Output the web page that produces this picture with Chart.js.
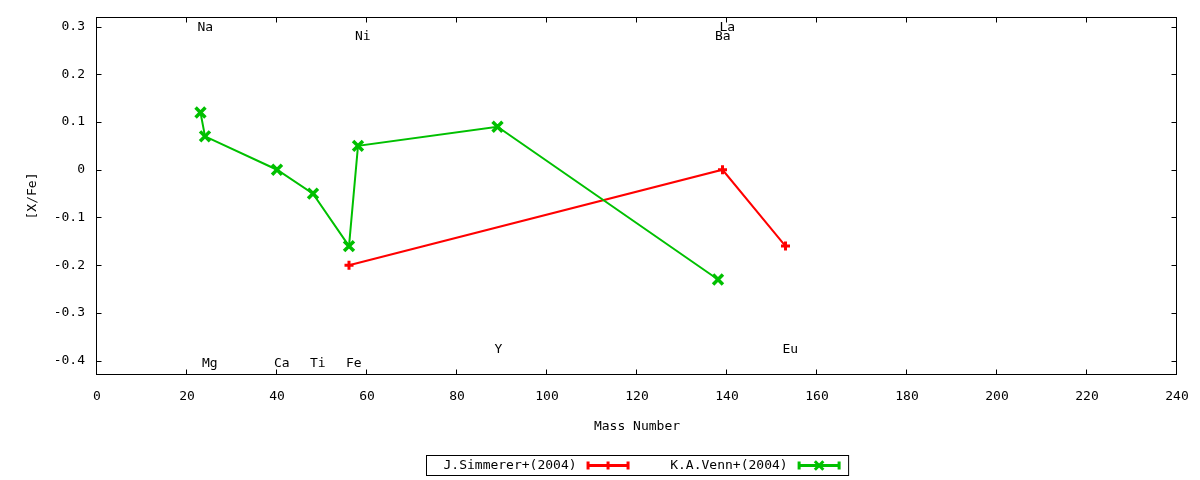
<!DOCTYPE html>
<html>
<head>
<meta charset="utf-8">
<script src="https://cdn.jsdelivr.net/npm/chart.js@4/dist/chart.umd.min.js"></script>
<style>
  html, body { margin: 0; padding: 0; background: #fff; }
  #wrap { width: 1200px; height: 480px; }
</style>
</head>
<body>
<div id="wrap"><canvas id="chart"></canvas></div>
<script>
// Series: mass number vs [X/Fe]
const simmererMass = [56, 139, 153];
const simmererXFe = [-0.20, 0.00, -0.16];
const vennMass = [23, 24, 40, 48, 56, 58, 89, 138];
const vennXFe = [0.12, 0.07, 0.00, -0.05, -0.16, 0.05, 0.09, -0.23];

// Element labels placed in data coordinates
const elementNames = ['Na', 'Mg', 'Ca', 'Ti', 'Fe', 'Ni', 'Y', 'Ba', 'La', 'Eu'];
const elementLabelX = [23, 24, 40, 48, 56, 58, 89, 138, 139, 153];
const elementLabelY = [0.30, -0.405, -0.405, -0.405, -0.405, 0.28, -0.375, 0.28, 0.30, -0.375];

// Tick labels
const xTickValues = [0, 20, 40, 60, 80, 100, 120, 140, 160, 180, 200, 220, 240];
const yTickValues = [-0.4, -0.3, -0.2, -0.1, 0, 0.1, 0.2, 0.3];

const FONT = 'DejaVu Sans Mono';
Chart.defaults.font.family = FONT;
Chart.defaults.font.size = 13;
Chart.defaults.color = '#000';

const toPoints = (xs, ys) => xs.map((x, i) => ({ x: x, y: ys[i] }));

// Draws a gnuplot-like marker
function drawMarker(ctx, style, x, y, r) {
    ctx.beginPath();
    if (style === 'cross') {
        ctx.moveTo(x - r, y); ctx.lineTo(x + r, y);
        ctx.moveTo(x, y - r); ctx.lineTo(x, y + r);
    } else {
        const d = r * Math.SQRT1_2;
        ctx.moveTo(x - d, y - d); ctx.lineTo(x + d, y + d);
        ctx.moveTo(x - d, y + d); ctx.lineTo(x + d, y - d);
    }
    ctx.stroke();
}

const framePlugin = {
    id: 'frame',
    afterDraw(chart) {
        const ctx = chart.ctx;
        const ca = chart.chartArea;
        const xs = chart.scales.x;
        const ys = chart.scales.y;
        const tick = 5;
        ctx.save();

        // border box
        ctx.strokeStyle = '#000';
        ctx.lineWidth = 1;
        const L = Math.round(ca.left) - 0.5, R = Math.round(ca.right) - 0.5;
        const T = Math.round(ca.top) + 0.5, B = Math.round(ca.bottom) - 0.5;
        ctx.strokeRect(L, T, R - L, B - T);

        // inward ticks, mirrored on top and right
        ctx.beginPath();
        xs.ticks.forEach(t => {
            const px = Math.round(xs.getPixelForValue(t.value)) - 0.5;
            ctx.moveTo(px, B); ctx.lineTo(px, B - tick);
            ctx.moveTo(px, T); ctx.lineTo(px, T + tick);
        });
        ys.ticks.forEach(t => {
            const py = Math.round(ys.getPixelForValue(t.value)) + 0.5;
            ctx.moveTo(L, py); ctx.lineTo(L + tick, py);
            ctx.moveTo(R, py); ctx.lineTo(R - tick, py);
        });
        ctx.stroke();

        // element labels
        ctx.fillStyle = '#000';
        ctx.font = '13px "' + FONT + '"';
        ctx.textAlign = 'left';
        ctx.textBaseline = 'middle';
        elementNames.forEach((name, i) => {
            const px = xs.getPixelForValue(elementLabelX[i]) - 3;
            const py = ys.getPixelForValue(elementLabelY[i]) + 1;
            ctx.fillText(name, px, py);
        });

        // key box below the plot
        const sets = chart.data.datasets;
        const textW = Math.max(...sets.map(d => ctx.measureText(d.label).width));
        const sampleW = 43, gapText = 10, entryGap = 25, padL = 17, padR = 8;
        const entryW = textW + gapText + sampleW;
        const total = padL + sets.length * entryW + (sets.length - 1) * entryGap + padR;
        const boxL = Math.round((ca.left + ca.right) / 2 - total / 2) + 0.5;
        const boxT = 455.5, boxH = 20;
        ctx.lineWidth = 1;
        ctx.strokeStyle = '#000';
        ctx.strokeRect(boxL, boxT, total, boxH);
        const cy = boxT + boxH / 2;
        sets.forEach((d, i) => {
            const x0 = boxL + padL + i * (entryW + entryGap);
            ctx.fillStyle = '#000';
            ctx.textAlign = 'right';
            ctx.fillText(d.label, x0 + textW, cy);
            const s0 = x0 + textW + gapText, s1 = s0 + sampleW;
            ctx.strokeStyle = d.borderColor;
            ctx.lineWidth = 3;
            ctx.beginPath();
            ctx.moveTo(s0, cy); ctx.lineTo(s1, cy);
            ctx.moveTo(s0 + 1.5, cy - 4); ctx.lineTo(s0 + 1.5, cy + 4);
            ctx.moveTo(s1 - 1.5, cy - 4); ctx.lineTo(s1 - 1.5, cy + 4);
            ctx.stroke();
            drawMarker(ctx, d.pointStyle, (s0 + s1) / 2, cy, d.pointStyle === 'cross' ? 4 : 6);
        });
        ctx.restore();
    }
};

new Chart(document.getElementById('chart'), {
    type: 'scatter',
    data: {
        datasets: [
            {
                label: 'J.Simmerer+(2004)',
                data: toPoints(simmererMass, simmererXFe),
                showLine: true,
                borderColor: '#ff0000',
                backgroundColor: '#ff0000',
                borderWidth: 2,
                pointStyle: 'cross',
                pointRadius: 4.5,
                pointBorderWidth: 3,
                order: 1
            },
            {
                label: 'K.A.Venn+(2004)',
                data: toPoints(vennMass, vennXFe),
                showLine: true,
                borderColor: '#00c000',
                backgroundColor: '#00c000',
                borderWidth: 2,
                pointStyle: 'crossRot',
                pointRadius: 7,
                pointBorderWidth: 3.5,
                order: 0
            }
        ]
    },
    options: {
        responsive: true,
        maintainAspectRatio: false,
        animation: false,
        events: [],
        layout: { padding: { top: 17, right: 23, left: 0, bottom: 0 } },
        plugins: {
            legend: { display: false },
            tooltip: { enabled: false }
        },
        scales: {
            x: {
                type: 'linear',
                min: 0,
                max: 240,
                grid: { display: false, drawTicks: false },
                border: { display: false },
                ticks: { padding: 14, maxRotation: 0, callback: v => String(v) },
                title: { display: true, text: 'Mass Number', padding: { top: 0, bottom: 46 } },
                afterBuildTicks: s => { s.ticks = xTickValues.map(v => ({ value: v })); },
                afterFit: s => { s.height = 105; s.paddingLeft = 0; s.paddingRight = 0; }
            },
            y: {
                type: 'linear',
                min: -0.43,
                max: 0.32,
                grid: { display: false, drawTicks: false },
                border: { display: false },
                ticks: { padding: 12, callback: v => (v === 0 ? '0' : v.toFixed(1)) },
                title: { display: true, text: '[X/Fe]', padding: { top: 25, bottom: 0 } },
                afterBuildTicks: s => { s.ticks = yTickValues.map(v => ({ value: v })); },
                afterFit: s => { s.width = 97; s.paddingTop = 0; s.paddingBottom = 0; }
            }
        }
    },
    plugins: [framePlugin]
});
</script>
</body>
</html>
